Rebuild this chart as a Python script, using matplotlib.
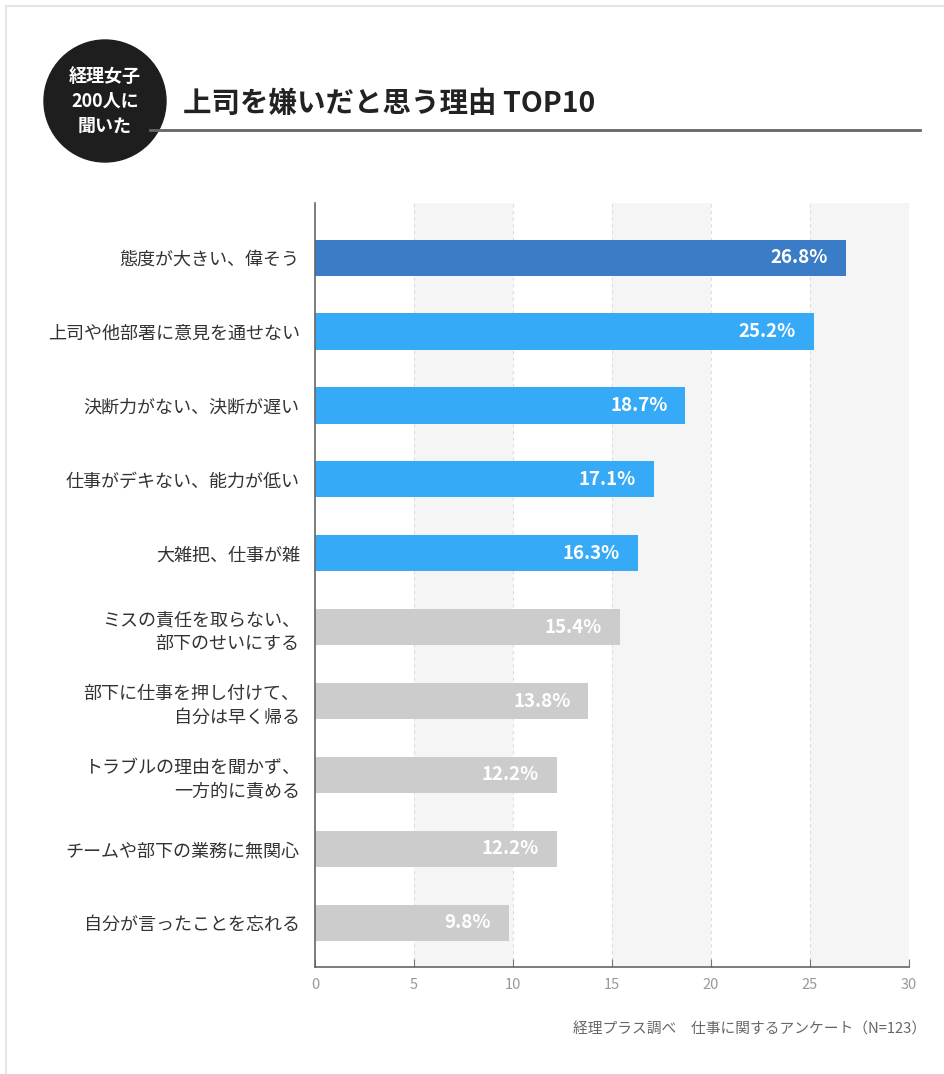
import matplotlib.pyplot as plt
from matplotlib.patches import Circle, Rectangle

plt.rcParams['font.family'] = ['Noto Sans CJK JP', 'DejaVu Sans']

# data
reasons = [
    "態度が大きい、偉そう",
    "上司や他部署に意見を通せない",
    "決断力がない、決断が遅い",
    "仕事がデキない、能力が低い",
    "大雑把、仕事が雑",
    "ミスの責任を取らない、\n部下のせいにする",
    "部下に仕事を押し付けて、\n自分は早く帰る",
    "トラブルの理由を聞かず、\n一方的に責める",
    "チームや部下の業務に無関心",
    "自分が言ったことを忘れる",
]
values = [26.8, 25.2, 18.7, 17.1, 16.3, 15.4, 13.8, 12.2, 12.2, 9.8]
bar_colors = ["#3a7cc6"] + ["#36aaf6"] * 4 + ["#cccccc"] * 5
ticks = [0, 5, 10, 15, 20, 25, 30]

fig = plt.figure(figsize=(9.44, 10.74), dpi=100)

# outer frame
fig.patches.append(Rectangle((6 / 944, -0.01), 1.0, 1 - 6 / 1074 + 0.01,
                             transform=fig.transFigure, fill=False,
                             edgecolor="#e6e6e6", linewidth=1.5))

ax = fig.add_axes([315 / 944, 1 - 967 / 1074, 594 / 944, 764 / 1074])

# alternate background bands and dashed grid
for i in range(len(ticks) - 1):
    if i % 2 == 1:
        ax.axvspan(ticks[i], ticks[i + 1], color="#f5f5f5", zorder=0, lw=0)
for t in ticks[1:]:
    ax.axvline(t, color="#dddddd", linestyle=(0, (3, 3)), linewidth=0.8, zorder=0.5)

y = list(range(len(values)))
ax.barh(y, values, height=0.49, color=bar_colors, zorder=2)

for yi, v in zip(y, values):
    ax.text(v - 0.9, yi, f"{v}%", ha="right", va="center", color="white",
            fontsize=13.5, fontweight="bold", zorder=3)

ax.set_xlim(0, 30)
ax.set_ylim(9.6, -0.74)
ax.set_xticks(ticks)
ax.set_xticklabels([str(t) for t in ticks], color="#999999", fontsize=10.5)
ax.set_yticks(y)
ax.set_yticklabels(reasons, fontsize=13, color="#333333", linespacing=1.4)
ax.tick_params(axis="y", length=0, pad=11)
ax.tick_params(axis="x", direction="in", length=6, color="#777777", pad=8)

for s in ["top", "right"]:
    ax.spines[s].set_visible(False)
ax.spines["left"].set_color("#666666")
ax.spines["bottom"].set_color("#666666")
ax.spines["left"].set_linewidth(1.2)
ax.spines["bottom"].set_linewidth(1.2)

# header
fig.add_artist(plt.Line2D([150 / 944, 920 / 944], [1 - 130 / 1074, 1 - 130 / 1074],
                          transform=fig.transFigure, color="#666666", linewidth=2))
hdr = fig.add_axes([0, 0, 1, 1], facecolor="none")
hdr.set_xlim(0, 944)
hdr.set_ylim(1074, 0)
hdr.axis("off")
hdr.add_patch(Circle((105, 101), 61, color="#1e1e1e", zorder=3))
hdr.text(105, 101, "経理女子\n200人に\n聞いた", ha="center", va="center",
         color="white", fontsize=13, fontweight="bold", linespacing=1.4, zorder=4)
hdr.text(183, 104, "上司を嫌いだと思う理由 TOP10", ha="left", va="center",
         color="#222222", fontsize=20.5, fontweight="bold")

fig.text(926 / 944, 1 - 1030 / 1074, "経理プラス調べ　仕事に関するアンケート（N=123）",
         ha="right", va="center", color="#666666", fontsize=10.6)

fig.savefig("out.png", dpi=100)
